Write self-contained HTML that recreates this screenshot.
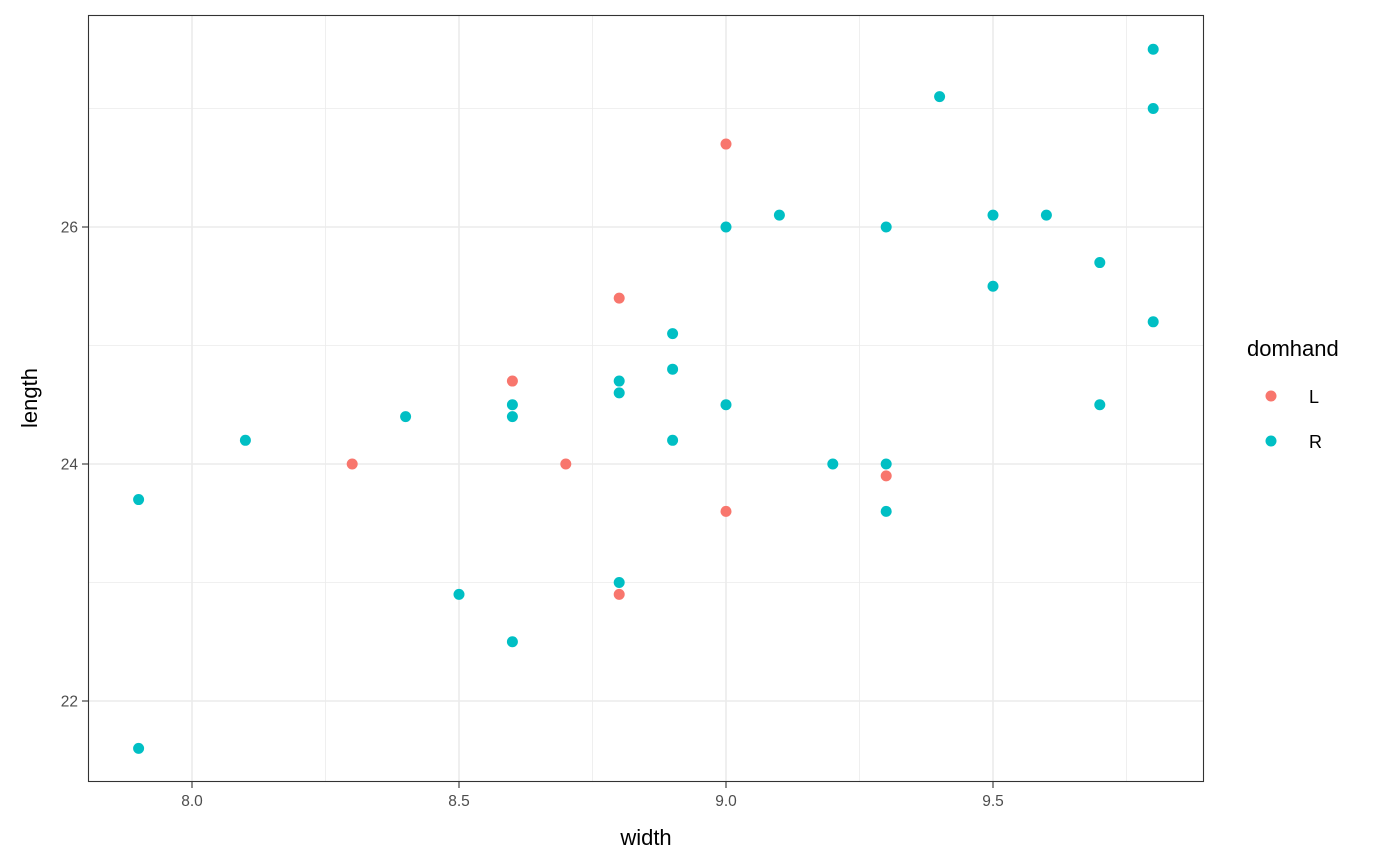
<!DOCTYPE html>
<html><head><meta charset="utf-8"><style>body{margin:0;background:#fff}svg{display:block;font-family:"Liberation Sans",Arial,sans-serif}</style></head><body>
<svg width="1400" height="866" viewBox="0 0 1400 866">
<rect x="0" y="0" width="1400" height="866" fill="#fff"/>
<g stroke="#ebebeb" stroke-width="0.8">
<line x1="325.5" y1="15" x2="325.5" y2="782"/><line x1="592.5" y1="15" x2="592.5" y2="782"/><line x1="859.5" y1="15" x2="859.5" y2="782"/><line x1="1126.5" y1="15" x2="1126.5" y2="782"/>
<line x1="88" y1="108.5" x2="1204" y2="108.5"/><line x1="88" y1="345.5" x2="1204" y2="345.5"/><line x1="88" y1="582.5" x2="1204" y2="582.5"/>
</g>
<g stroke="#ebebeb" stroke-width="1.6">
<line x1="192" y1="15" x2="192" y2="782"/><line x1="459" y1="15" x2="459" y2="782"/><line x1="726" y1="15" x2="726" y2="782"/><line x1="993" y1="15" x2="993" y2="782"/>
<line x1="88" y1="227" x2="1204" y2="227"/><line x1="88" y1="464" x2="1204" y2="464"/><line x1="88" y1="701" x2="1204" y2="701"/>
</g>
<g fill="#F8766D">
<circle cx="352.2" cy="464" r="5.5"/><circle cx="512.4" cy="381.05" r="5.5"/><circle cx="565.8" cy="464" r="5.5"/><circle cx="619.2" cy="298.1" r="5.5"/><circle cx="619.2" cy="594.35" r="5.5"/><circle cx="726" cy="144.05" r="5.5"/><circle cx="726" cy="511.4" r="5.5"/><circle cx="886.2" cy="475.85" r="5.5"/>
</g>
<g fill="#00BFC4">
<circle cx="138.6" cy="499.55" r="5.5"/><circle cx="138.6" cy="748.4" r="5.5"/><circle cx="245.4" cy="440.3" r="5.5"/><circle cx="405.6" cy="416.6" r="5.5"/><circle cx="459" cy="594.35" r="5.5"/><circle cx="512.4" cy="404.75" r="5.5"/><circle cx="512.4" cy="416.6" r="5.5"/><circle cx="512.4" cy="641.75" r="5.5"/><circle cx="619.2" cy="381.05" r="5.5"/><circle cx="619.2" cy="392.9" r="5.5"/><circle cx="619.2" cy="582.5" r="5.5"/><circle cx="672.6" cy="333.65" r="5.5"/><circle cx="672.6" cy="369.2" r="5.5"/><circle cx="672.6" cy="440.3" r="5.5"/><circle cx="726" cy="227" r="5.5"/><circle cx="726" cy="404.75" r="5.5"/><circle cx="779.4" cy="215.15" r="5.5"/><circle cx="832.8" cy="464" r="5.5"/><circle cx="886.2" cy="227" r="5.5"/><circle cx="886.2" cy="464" r="5.5"/><circle cx="886.2" cy="511.4" r="5.5"/><circle cx="939.6" cy="96.65" r="5.5"/><circle cx="993" cy="215.15" r="5.5"/><circle cx="993" cy="286.25" r="5.5"/><circle cx="1046.4" cy="215.15" r="5.5"/><circle cx="1099.8" cy="262.55" r="5.5"/><circle cx="1099.8" cy="404.75" r="5.5"/><circle cx="1153.2" cy="49.25" r="5.5"/><circle cx="1153.2" cy="108.5" r="5.5"/><circle cx="1153.2" cy="321.8" r="5.5"/>
</g>
<rect x="88.5" y="15.5" width="1115" height="766" fill="none" stroke="#333" stroke-width="1.1"/>
<g stroke="#333" stroke-width="1.1">
<line x1="192" y1="782" x2="192" y2="788"/><line x1="459" y1="782" x2="459" y2="788"/><line x1="726" y1="782" x2="726" y2="788"/><line x1="993" y1="782" x2="993" y2="788"/>
<line x1="82" y1="227" x2="88" y2="227"/><line x1="82" y1="464" x2="88" y2="464"/><line x1="82" y1="701" x2="88" y2="701"/>
</g>
<g fill="#4d4d4d" font-size="15.5" text-anchor="middle">
<text x="192" y="806">8.0</text><text x="459" y="806">8.5</text><text x="726" y="806">9.0</text><text x="993" y="806">9.5</text>
</g>
<g fill="#4d4d4d" font-size="15.5" text-anchor="end">
<text x="78" y="232.5">26</text><text x="78" y="469.5">24</text><text x="78" y="706.5">22</text>
</g>
<text x="646" y="845" font-size="22" text-anchor="middle" fill="#000">width</text>
<text transform="translate(37,398) rotate(-90)" font-size="22" text-anchor="middle" fill="#000">length</text>
<text x="1247" y="356" font-size="22" fill="#000">domhand</text>
<circle cx="1271" cy="396" r="5.5" fill="#F8766D"/>
<circle cx="1271" cy="441" r="5.5" fill="#00BFC4"/>
<text x="1309" y="403" font-size="18" fill="#000">L</text>
<text x="1309" y="448" font-size="18" fill="#000">R</text>
</svg>
</body></html>
